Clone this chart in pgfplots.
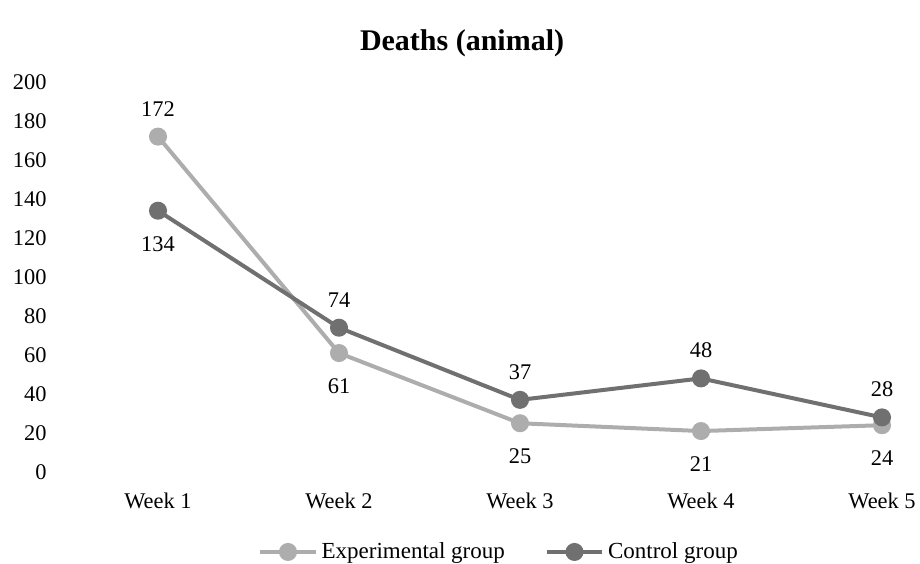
\documentclass[border=0pt]{standalone}
\usepackage{pgfplots}
\pgfplotsset{compat=1.18}
\usepackage{pgfplotstable}
\usepackage{fontspec}
\setmainfont{Liberation Serif}
\definecolor{expc}{HTML}{ADADAD}
\definecolor{ctrlc}{HTML}{707070}
\pgfplotstableread{
x y s
0 172 14
1 61 -16.5
2 25 -16.5
3 21 -16.5
4 24 -16.5
}\expdata
\pgfplotstableread{
x y s
0 134 -16.5
1 74 14
2 37 14
3 48 14
4 28 14
}\ctrldata
\begin{document}
\begin{tikzpicture}
\useasboundingbox (0,0) rectangle (460pt,281.5pt);
\begin{axis}[
  at={(33.75pt,45.5pt)}, anchor=south west,
  scale only axis, width=452.5pt, height=195pt,
  xmin=-0.5, xmax=4.5, ymin=0, ymax=200,
  ytick={0,20,...,200},
  xtick={0,1,2,3,4},
  xticklabels={Week 1,Week 2,Week 3,Week 4,Week 5},
  axis line style={draw=none},
  tick style={draw=none},
  clip=false,
  /pgf/number format/assume math mode=true,
  font=\fontsize{11.2}{13}\selectfont,
  yticklabel style={anchor=east, inner sep=0pt, xshift=-10.3pt},
  xticklabel style={anchor=base, inner sep=0pt, yshift=-18pt},
  title={Deaths (animal)},
  title style={at={(0.436,1.068)}, anchor=center, font=\bfseries\fontsize{15}{17}\selectfont},
  legend columns=2,
  legend style={at={(0.478,-0.205)}, anchor=center, draw=none, fill=none,
    font=\fontsize{11.5}{13}\selectfont,
    /tikz/every even column/.append style={column sep=18pt}},
  legend image code/.code={\draw[mark repeat=2,mark phase=2,#1] plot coordinates {(0cm,0cm) (0.485cm,0cm) (0.97cm,0cm)};},
  nodes near coords,
  visualization depends on={\thisrow{s} \as \myshift},
  every node near coord/.append style={anchor=center, yshift=\myshift pt, font=\fontsize{11.2}{13}\selectfont, text=black},
]
\addplot[color=expc, line width=2pt, mark=*, mark size=3.5pt, mark options={fill=expc, draw=expc}] table[x=x,y=y] {\expdata};
\addlegendentry{Experimental group}
\addplot[color=ctrlc, line width=2pt, mark=*, mark size=3.5pt, mark options={fill=ctrlc, draw=ctrlc}] table[x=x,y=y] {\ctrldata};
\addlegendentry{Control group}
\end{axis}
\end{tikzpicture}
\end{document}
